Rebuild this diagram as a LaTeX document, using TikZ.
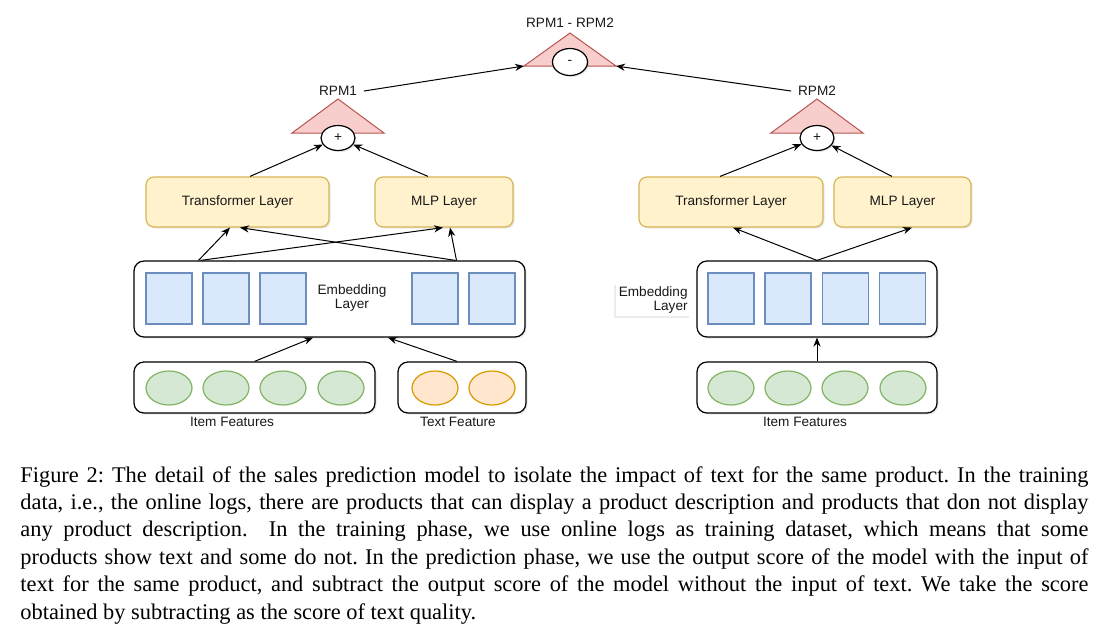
\documentclass[tikz,border=0pt]{standalone}
\usepackage{fontspec}
\setmainfont{Liberation Serif}
\setsansfont{Liberation Sans}
\usepackage{tikz}
\usetikzlibrary{arrows.meta,shapes.geometric,shadows}

\definecolor{triFill}{HTML}{F8CECC}
\definecolor{triLine}{HTML}{B85450}
\definecolor{layerFill}{HTML}{FFF2CC}
\definecolor{layerLine}{HTML}{D6B656}
\definecolor{embFill}{HTML}{DAE8FC}
\definecolor{embLine}{HTML}{6C8EBF}
\definecolor{itemFill}{HTML}{D5E8D4}
\definecolor{itemLine}{HTML}{82B366}
\definecolor{textFill}{HTML}{FFE6CC}
\definecolor{textLine}{HTML}{D79B00}

\begin{document}
\begin{tikzpicture}[x=0.5pt, y=-0.5pt,
    lab/.style={font=\sffamily\fontsize{6.8}{7}\selectfont, text=black!90},
    shady/.style={drop shadow={opacity=0.18, shadow xshift=0.8pt, shadow yshift=-0.8pt}},
    arr/.style={-{Stealth[length=4.5pt, width=3.6pt]}, line width=0.5pt},
    layerbox/.style={lab, draw=layerLine, fill=layerFill, rounded corners=4pt, minimum height=25pt, line width=0.6pt, shady},
    holder/.style={draw, fill=white, rounded corners=5pt, line width=0.6pt, shady},
    embcell/.style={draw=embLine, fill=embFill, minimum width=23pt, minimum height=25.5pt, inner sep=0pt, line width=0.6pt},
    itemcell/.style={ellipse, draw=itemLine, fill=itemFill, minimum width=23pt, minimum height=17pt, inner sep=0pt, line width=0.6pt},
    textcell/.style={ellipse, draw=textLine, fill=textFill, minimum width=23pt, minimum height=17pt, inner sep=0pt, line width=0.6pt},
    sum/.style={lab, ellipse, draw, fill=white, inner sep=0pt, line width=0.6pt, shady},
    tri/.style={draw=triLine, fill=triFill, line width=0.5pt}
  ]
    \useasboundingbox (0,0) rectangle (1110,634);

    \draw [tri] (292,133) -- (338,99) -- (384,133) -- cycle;
    \draw [tri] (771,133) -- (817,99) -- (863,133) -- cycle;
    \draw [tri] (524,66) -- (570,33) -- (616,66) -- cycle;
    \coordinate (topL) at (524,66);
    \coordinate (topR) at (616,66);

    \node [sum, minimum width=17pt, minimum height=12.5pt] (sumL) at (338,138) {+};
    \node [sum, minimum width=17pt, minimum height=12.5pt] (sumR) at (817,138) {+};
    \node [sum, minimum width=17.5pt, minimum height=13.5pt] (diff) at (570,62) {-};
    \node [lab] (rpm1) at (338,91) {RPM1};
    \node [lab] (rpm2) at (817,91) {RPM2};
    \node [lab] (rpmDiff) at (570,23) {RPM1 - RPM2};

    \node [layerbox, minimum width=91.5pt] (transL) at (237.5,202) {Transformer Layer};
    \node [layerbox, minimum width=69pt] (mlpL) at (444,202) {MLP Layer};
    \node [layerbox, minimum width=92pt] (transR) at (731,202) {Transformer Layer};
    \node [layerbox, minimum width=68.5pt] (mlpR) at (902.5,202) {MLP Layer};

    \node [holder, minimum width=195.5pt, minimum height=38pt] (embL) at (329.5,299) {};
    \node [embcell] (eL1) at (169,298.5) {};
    \node [embcell] (eL2) at (226,298.5) {};
    \node [embcell] (eL3) at (283,298.5) {};
    \node [embcell] (eL4) at (435,298.5) {};
    \node [embcell] (eL5) at (492,298.5) {};
    \node [lab, align=center] (embLabL) at (352,298) {Embedding\\Layer};

    \node [holder, minimum width=120pt, minimum height=38pt] (embR) at (817,299) {};
    \node [embcell] (eR1) at (731,298.5) {};
    \node [embcell] (eR2) at (788,298.5) {};
    \node [embcell] (eR3) at (845.5,298.5) {};
    \node [embcell] (eR4) at (902.5,298.5) {};
    \node [lab, align=right, anchor=east, fill=white, inner sep=1.5pt,
        drop shadow={opacity=0.15, shadow xshift=-0.8pt, shadow yshift=-0.8pt}] (embLabR) at (691,300) {Embedding\\Layer};

    \node [holder, minimum width=120.5pt, minimum height=25.5pt] (itemL) at (254.5,387.5) {};
    \node [itemcell] (fL1) at (169,388) {};
    \node [itemcell] (fL2) at (226,388) {};
    \node [itemcell] (fL3) at (283,388) {};
    \node [itemcell] (fL4) at (341,388) {};
    \node [holder, minimum width=64pt, minimum height=25.5pt] (textL) at (462,387.5) {};
    \node [textcell] (tL1) at (435,388) {};
    \node [textcell] (tL2) at (492,388) {};
    \node [lab] (itemLabL) at (232,422) {Item Features};
    \node [lab] (textLab) at (458,422) {Text Feature};

    \node [holder, minimum width=120pt, minimum height=25.5pt] (itemR) at (817,387.5) {};
    \node [itemcell] (fR1) at (731,388) {};
    \node [itemcell] (fR2) at (788,388) {};
    \node [itemcell] (fR3) at (845,388) {};
    \node [itemcell] (fR4) at (903,388) {};
    \node [lab] (itemLabR) at (805,422) {Item Features};

    \draw [arr] (rpm1.east) -- (topL);
    \draw [arr] (rpm2.west) -- (topR);
    \draw [arr] ([xshift=6.25pt]transL.north) -- (sumL);
    \draw [arr] ([xshift=-8pt]mlpL.north) -- (sumL);
    \draw [arr] ([xshift=-5.5pt]transR.north) -- (sumR);
    \draw [arr] ([xshift=-5.25pt]mlpR.north) -- (sumR);

    \draw [arr] ([xshift=-65.5pt]embL.north) -- ([xshift=-3.75pt]transL.south);
    \draw [arr] ([xshift=-64.5pt]embL.north) -- ([xshift=-0.5pt]mlpL.south);
    \draw [arr] ([xshift=63pt]embL.north) -- ([xshift=1.25pt]transL.south);
    \draw [arr] ([xshift=63.5pt]embL.north) -- ([xshift=3pt]mlpL.south);
    \draw [arr] (embR.north) -- ([xshift=1pt]transR.south);
    \draw [arr] (embR.north) -- ([xshift=4.75pt]mlpR.south);

    \draw [arr] (itemL.north) -- ([xshift=-8.25pt]embL.south);
    \draw [arr] ([xshift=-2.5pt]textL.north) -- ([xshift=29.25pt]embL.south);
    \draw [arr] (itemR.north) -- (embR.south);

    \node [anchor=north west, text width=534pt, align=justify, inner sep=0pt,
        font=\fontsize{11.2}{13.7}\selectfont\frenchspacing] (caption) at (20,466)
        {Figure 2: The detail of the sales prediction model to isolate the impact of text for the same product. In the training\linebreak
        data, i.e., the online logs, there are products that can display a product description and products that don not display\linebreak
        any product description.\ \ In the training phase, we use online logs as training dataset, which means that some\linebreak
        products show text and some do not. In the prediction phase, we use the output score of the model with the input of\linebreak
        text for the same product, and subtract the output score of the model without the input of text. We take the score\linebreak
        obtained by subtracting as the score of text quality.};
\end{tikzpicture}
\end{document}
